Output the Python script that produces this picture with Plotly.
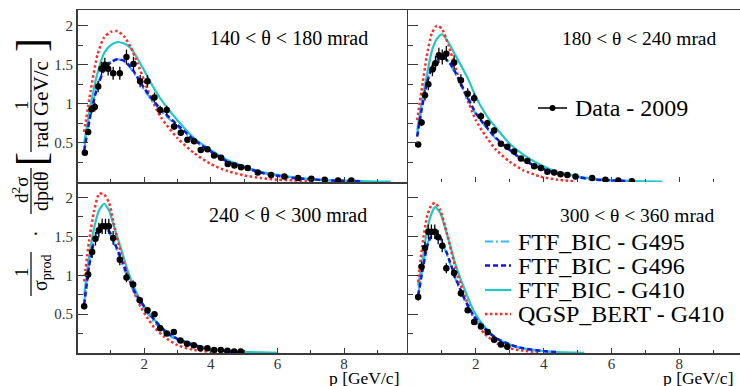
import plotly.graph_objects as go

W, H = 740, 386
FONT = "Liberation Serif"
AXC = "#3a3a3a"

# ---------------- data ----------------
panel_titles = ["140 < θ < 180 mrad", "180 < θ < 240 mrad",
                "240 < θ < 300 mrad", "300 < θ < 360 mrad"]
model_names = ["FTF_BIC - G495", "FTF_BIC - G496", "FTF_BIC - G410", "QGSP_BERT - G410"]
data_name = "Data - 2009"
x_tick_vals = [2, 4, 6, 8]
x_tick_text = ["2", "4", "6", "8"]
y_tick_vals = [0.5, 1, 1.5, 2]
y_tick_text = ["0.5", "1", "1.5", "2"]

# 140 < theta < 180 mrad
tl_data_p = [0.22, 0.32, 0.42, 0.52, 0.62, 0.72, 0.82, 0.92, 1.07, 1.27, 1.47, 1.68, 1.88, 2.10, 2.31,
             2.48, 2.68, 2.90, 3.10, 3.30, 3.50, 3.70, 3.90, 4.10, 4.31, 4.51, 4.71, 4.91, 5.11, 5.41,
             5.81, 6.21, 6.62, 7.02, 7.42, 7.82, 8.22]
tl_data_v = [0.375, 0.64, 0.93, 0.96, 1.22, 1.45, 1.50, 1.45, 1.39, 1.39, 1.60, 1.51, 1.29, 1.29, 1.08,
             0.92, 0.92, 0.71, 0.63, 0.54, 0.52, 0.41, 0.42, 0.34, 0.31, 0.23, 0.21, 0.19, 0.18, 0.12,
             0.09, 0.07, 0.05, 0.04, 0.03, 0.02, 0.02]
tl_p = [0.2, 0.4, 0.6, 0.8, 1.0, 1.2, 1.4, 1.6, 1.8, 2.0, 2.2, 2.5, 3.0, 3.5, 4.0, 4.5, 5.0, 5.5, 6.0,
        6.5, 7.0, 7.5, 8.0, 8.5, 9.0, 9.4]
tl_g495 = [0.42, 0.90, 1.24, 1.44, 1.54, 1.57, 1.54, 1.45, 1.32, 1.18, 1.06, 0.91, 0.71, 0.53, 0.38, 0.26,
           0.18, 0.12, 0.08, 0.05, 0.03, 0.02, 0.014, 0.01, None, None]
tl_g496 = [0.40, 0.88, 1.22, 1.43, 1.53, 1.57, 1.55, 1.47, 1.34, 1.20, 1.08, 0.93, 0.73, 0.54, 0.39, 0.26,
           0.19, 0.12, 0.08, 0.05, 0.035, 0.02, 0.015, 0.01, None, None]
tl_g410 = [0.49, 1.00, 1.39, 1.65, 1.75, 1.79, 1.77, 1.71, 1.58, 1.43, 1.27, 1.06, 0.79, 0.56, 0.41, 0.28,
           0.20, 0.13, 0.09, 0.06, 0.04, 0.025, 0.017, 0.01, 0.006, 0.004]
tl_qgsp = [0.64, 1.18, 1.63, 1.85, 1.92, 1.93, 1.86, 1.72, 1.52, 1.30, 1.08, 0.83, 0.56, 0.37, 0.23, 0.14,
           0.085, 0.05, 0.03, 0.02, 0.01, None, None, None, None, None]

# 180 < theta < 240 mrad
tr_data_p = [0.30, 0.40, 0.50, 0.60, 0.72, 0.81, 0.91, 1.01, 1.13, 1.36, 1.56, 1.76, 1.95, 2.15, 2.34,
             2.54, 2.74, 2.93, 3.13, 3.33, 3.52, 3.72, 3.92, 4.11, 4.31, 4.50, 4.70, 4.94, 5.43, 5.82,
             6.20, 6.60]
tr_data_v = [0.48, 0.76, 1.11, 1.25, 1.44, 1.52, 1.62, 1.60, 1.64, 1.53, 1.30, 1.13, 1.07, 0.84, 0.75,
             0.66, 0.49, 0.45, 0.39, 0.30, 0.27, 0.20, 0.18, 0.13, 0.12, 0.10, 0.09, 0.07, 0.05, 0.03,
             0.02, 0.01]
tr_p = [0.27, 0.4, 0.55, 0.7, 0.85, 1.0, 1.2, 1.4, 1.6, 1.8, 2.0, 2.3, 2.6, 3.0, 3.4, 3.9, 4.4, 4.9,
        5.5, 6.0, 6.5, 7.0, 7.5]
tr_g495 = [0.60, 0.94, 1.27, 1.47, 1.57, 1.60, 1.53, 1.38, 1.20, 1.03, 0.87, 0.70, 0.55, 0.40, 0.28, 0.18,
           0.11, 0.07, 0.03, 0.02, 0.01, None, None]
tr_g496 = [0.58, 0.92, 1.25, 1.46, 1.56, 1.60, 1.54, 1.40, 1.22, 1.05, 0.88, 0.71, 0.56, 0.41, 0.28, 0.18,
           0.11, 0.07, 0.03, 0.02, 0.01, None, None]
tr_g410 = [0.66, 1.00, 1.35, 1.67, 1.83, 1.89, 1.78, 1.62, 1.46, 1.29, 1.09, 0.86, 0.69, 0.49, 0.35, 0.22,
           0.13, 0.08, 0.04, 0.025, 0.015, 0.008, 0.004]
tr_qgsp = [0.79, 1.17, 1.60, 1.90, 2.00, 1.96, 1.74, 1.46, 1.22, 1.00, 0.79, 0.58, 0.41, 0.26, 0.15, 0.07,
           0.03, 0.01, None, None, None, None, None]

# 240 < theta < 300 mrad
bl_data_p = [0.20, 0.32, 0.44, 0.54, 0.64, 0.74, 0.84, 0.94, 1.07, 1.27, 1.47, 1.67, 1.87, 2.10, 2.31,
             2.48, 2.68, 2.89, 3.09, 3.29, 3.49, 3.69, 3.90, 4.10, 4.30, 4.50, 4.70, 4.90]
bl_data_v = [0.60, 1.01, 1.30, 1.47, 1.58, 1.63, 1.63, 1.63, 1.48, 1.20, 0.97, 0.88, 0.68, 0.55, 0.50,
             0.32, 0.25, 0.27, 0.16, 0.12, 0.10, 0.06, 0.06, 0.04, 0.04, 0.03, 0.02, 0.02]
bl_p = [0.2, 0.35, 0.5, 0.65, 0.8, 0.95, 1.1, 1.3, 1.5, 1.7, 1.9, 2.1, 2.3, 2.6, 3.0, 3.5, 4.0, 4.5,
        5.0, 5.5, 6.0]
bl_g495 = [0.64, 1.14, 1.46, 1.60, 1.62, 1.55, 1.41, 1.19, 0.97, 0.78, 0.63, 0.51, 0.40, 0.27, 0.16, 0.09,
           0.045, 0.02, 0.01, None, None]
bl_g496 = [0.62, 1.12, 1.44, 1.59, 1.62, 1.57, 1.43, 1.22, 1.00, 0.80, 0.66, 0.54, 0.43, 0.29, 0.18, 0.10,
           0.05, 0.02, 0.01, None, None]
bl_g410 = [0.74, 1.24, 1.61, 1.84, 1.92, 1.83, 1.62, 1.35, 1.07, 0.84, 0.67, 0.54, 0.43, 0.30, 0.18, 0.11,
           0.05, 0.03, 0.015, 0.007, 0.003]
bl_qgsp = [0.92, 1.45, 1.83, 2.05, 2.04, 1.93, 1.64, 1.29, 1.01, 0.78, 0.59, 0.45, 0.33, 0.21, 0.10, 0.04,
           0.015, 0.005, None, None, None]

# 300 < theta < 360 mrad
br_data_p = [0.30, 0.40, 0.50, 0.60, 0.69, 0.79, 0.89, 1.01, 1.13, 1.36, 1.56, 1.76, 1.95, 2.15, 2.35,
             2.54, 2.74, 2.93]
br_data_v = [0.72, 1.11, 1.35, 1.56, 1.56, 1.56, 1.49, 1.38, 1.09, 1.03, 0.77, 0.55, 0.40, 0.34, 0.27,
             0.17, 0.11, 0.08]
br_p = [0.3, 0.42, 0.57, 0.7, 0.8, 0.95, 1.15, 1.4, 1.65, 1.95, 2.25, 2.6, 3.0, 3.4, 3.9, 4.4, 4.9, 5.2]
br_g495 = [0.76, 1.06, 1.40, 1.53, 1.55, 1.48, 1.26, 0.95, 0.69, 0.46, 0.31, 0.18, 0.10, 0.055, 0.025,
           0.01, None, None]
br_g496 = [0.74, 1.04, 1.38, 1.52, 1.55, 1.49, 1.28, 0.97, 0.71, 0.47, 0.32, 0.19, 0.11, 0.06, 0.03, 0.01,
           None, None]
br_g410 = [0.87, 1.17, 1.60, 1.80, 1.88, 1.80, 1.53, 1.14, 0.84, 0.53, 0.34, 0.19, 0.11, 0.06, 0.03, 0.01,
           0.004, 0.002]
br_qgsp = [0.91, 1.38, 1.77, 1.91, 1.93, 1.84, 1.53, 1.10, 0.76, 0.44, 0.25, 0.13, 0.06, 0.03, 0.01,
           None, None, None]

# ---------------- styling ----------------
model_styles = [
    dict(color="#35b8f5", width=2, dash="8px,3px,2px,3px"),   # G495
    dict(color="#1515e6", width=2.5, dash="5px,3px"),          # G496
    dict(color="#22c8c4", width=2.2, dash="solid"),            # G410
    dict(color="#ff2a2a", width=2.5, dash="2.5px,2.5px"),      # QGSP
]
draw_order = [2, 3, 0, 1]


def X(px):
    return px / W


def Y(py):
    return 1 - py / H


panels = [
    dict(xa="x", ya="y", dx=(77.5, 409), dy=(10, 182), xr=9.95, top=True, left=True,
         dp=tl_data_p, dv=tl_data_v, mp=tl_p, models=[tl_g495, tl_g496, tl_g410, tl_qgsp]),
    dict(xa="x2", ya="y2", dx=(408, 740), dy=(10, 182), xr=9.79, top=True, left=False,
         dp=tr_data_p, dv=tr_data_v, mp=tr_p, models=[tr_g495, tr_g496, tr_g410, tr_qgsp]),
    dict(xa="x3", ya="y3", dx=(77.5, 409), dy=(182, 353), xr=9.95, top=False, left=True,
         dp=bl_data_p, dv=bl_data_v, mp=bl_p, models=[bl_g495, bl_g496, bl_g410, bl_qgsp]),
    dict(xa="x4", ya="y4", dx=(408, 740), dy=(182, 353), xr=9.79, top=False, left=False,
         dp=br_data_p, dv=br_data_v, mp=br_p, models=[br_g495, br_g496, br_g410, br_qgsp]),
]

fig = go.Figure()
layout = {}
for i, pn in enumerate(panels):
    for k in draw_order:
        st = model_styles[k]
        fig.add_trace(go.Scatter(
            x=pn["mp"], y=pn["models"][k], mode="lines", name=model_names[k],
            xaxis=pn["xa"], yaxis=pn["ya"], showlegend=False, connectgaps=False,
            line=dict(color=st["color"], width=st["width"], dash=st["dash"], shape="spline",
                      smoothing=0.6),
            hoverinfo="skip"))
    fig.add_trace(go.Scatter(
        x=pn["dp"], y=pn["dv"], mode="markers", name=data_name,
        xaxis=pn["xa"], yaxis=pn["ya"], showlegend=False,
        marker=dict(color="black", size=6.5),
        error_y=dict(type="percent", value=6, color="black", thickness=1.3, width=0),
        error_x=dict(type="constant", value=0.08, color="black", thickness=1.3, width=0)))

    sfx = "" if i == 0 else str(i + 1)
    layout["xaxis" + sfx] = dict(
        domain=[X(pn["dx"][0]), X(pn["dx"][1])], range=[0, pn["xr"]], anchor="y" + sfx,
        showline=True, linecolor=AXC, linewidth=1.5, mirror=pn["top"],
        ticks="inside", ticklen=5, tickwidth=1, tickcolor=AXC,
        tickvals=x_tick_vals, ticktext=x_tick_text, showticklabels=not pn["top"],
        ticklabelstandoff=-4,
        tickfont=dict(family=FONT, size=15, color="#333"),
        showgrid=False, zeroline=False,
        minor=dict(tickmode="linear", tick0=0, dtick=1, ticks="inside", ticklen=3,
                   tickcolor=AXC, showgrid=False))
    layout["yaxis" + sfx] = dict(
        domain=[Y(pn["dy"][1]), Y(pn["dy"][0])], range=[0, 2.2], anchor="x" + sfx,
        showline=True, linecolor=AXC, linewidth=1.5,
        ticks="inside", ticklen=10, tickwidth=1, tickcolor=AXC,
        tickvals=y_tick_vals, ticktext=y_tick_text, showticklabels=pn["left"],
        tickfont=dict(family=FONT, size=15, color="#333"),
        showgrid=False, zeroline=False,
        minor=dict(tickmode="linear", tick0=0, dtick=0.25, ticks="inside", ticklen=5,
                   tickcolor=AXC, showgrid=False))

annotations = []
shapes = []

# panel titles
title_pos = [(208, 38, 20), (560, 38, 19.5), (207, 215, 20), (558, 215, 19.5)]
for t, (x, y, s) in zip(panel_titles, title_pos):
    annotations.append(dict(text=t, x=X(x), y=Y(y), xref="paper", yref="paper",
                            xanchor="left", yanchor="middle", showarrow=False,
                            font=dict(family=FONT, size=s, color="black")))

# x axis titles
for x in (401, 735):
    annotations.append(dict(text="p [GeV/c]", x=X(x), y=Y(378), xref="paper", yref="paper",
                            xanchor="right", yanchor="middle", showarrow=False,
                            font=dict(family=FONT, size=17.5, color="black")))


# y axis title built from fractions (rotated)
def rot(text, x, y, size):
    annotations.append(dict(text=text, x=X(x), y=Y(y), xref="paper", yref="paper",
                            xanchor="center", yanchor="middle", showarrow=False, textangle=-90,
                            font=dict(family=FONT, size=size, color="black")))


def vbar(x, y0, y1):
    shapes.append(dict(type="line", xref="paper", yref="paper", x0=X(x), x1=X(x),
                       y0=Y(y0), y1=Y(y1), line=dict(color="black", width=1.2)))


rot("1", 21, 272, 19)
vbar(31, 252, 296)
rot("σ<sub>prod</sub>", 41, 273, 20)
rot("·", 36, 234, 20)
rot("d<sup>2</sup>σ", 20, 190, 19)
vbar(31, 168, 214)
rot("dpdθ", 41, 191, 20)
rot("[", 31, 159, 42)
rot("1", 21, 105, 19)
vbar(31, 58, 152)
rot("rad GeV/c", 41, 105, 21)
rot("]", 31, 45, 42)

# legend: Data
shapes.append(dict(type="line", xref="paper", yref="paper", x0=X(538), x1=X(567),
                   y0=Y(108), y1=Y(108), line=dict(color="black", width=1.5)))
shapes.append(dict(type="circle", xref="paper", yref="paper", x0=X(549.5), x1=X(555.5),
                   y0=Y(105), y1=Y(111), fillcolor="black", line=dict(color="black", width=0)))
annotations.append(dict(text=data_name, x=X(573), y=Y(108), xref="paper", yref="paper",
                        xanchor="left", yanchor="middle", showarrow=False,
                        font=dict(family=FONT, size=24, color="black")))

# legend: models
leg_y = [241.5, 265.5, 290, 314]
for k, ly in enumerate(leg_y):
    st = model_styles[k]
    shapes.append(dict(type="line", xref="paper", yref="paper", x0=X(485), x1=X(511),
                       y0=Y(ly), y1=Y(ly),
                       line=dict(color=st["color"], width=st["width"], dash=st["dash"])))
    annotations.append(dict(text=model_names[k], x=X(516), y=Y(ly), xref="paper", yref="paper",
                            xanchor="left", yanchor="middle", showarrow=False,
                            font=dict(family=FONT, size=24, color="black")))

fig.update_layout(
    width=W, height=H, autosize=False,
    margin=dict(l=0, r=0, t=0, b=0),
    paper_bgcolor="white", plot_bgcolor="white",
    showlegend=False, hovermode=False,
    annotations=annotations, shapes=shapes,
    **layout)

fig.write_html("out.html", config={"displayModeBar": False, "staticPlot": True},
               post_script="document.body.style.margin='0px';")
